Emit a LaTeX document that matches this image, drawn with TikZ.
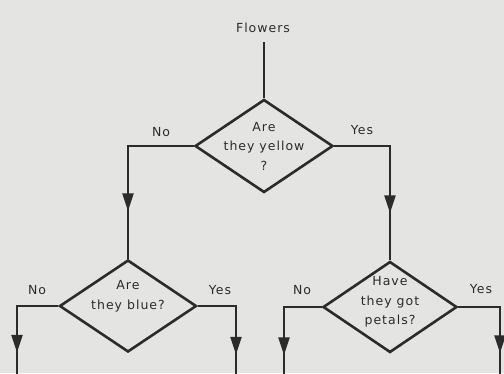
\documentclass[tikz,border=0pt]{standalone}
\usepackage{fontspec}
\setmainfont{DejaVu Sans}[LetterSpace=8]
\usetikzlibrary{shapes.geometric,arrows.meta,decorations.markings}
\definecolor{ink}{HTML}{2B2B2B}
\definecolor{bg}{HTML}{E4E5E2}
\begin{document}
\begin{tikzpicture}[x=1pt,y=-1pt,
  ln/.style={line width=2.6pt, draw=ink},
  dia/.style={diamond, ln, inner sep=0pt},
  dtext/.style={align=center, text=ink, inner sep=0pt,
    font=\fontsize{12.5}{19.5}\selectfont},
  lab/.style={text=ink, font=\fontsize{12.5}{14}\selectfont, inner sep=0pt},
  arrowat/.style={postaction={decorate}, decoration={markings,
    mark=at position #1 with {\arrow{Triangle[length=18pt,width=11pt]}}}}]
\fill[bg] (0,0) rectangle (504,373);
\useasboundingbox (0,0) rectangle (504,373);
\node[lab] (flowers) at (263,28) {Flowers};
\node[dia, minimum width=138pt, minimum height=93pt,
  label={[dtext]center:{Are\\they yellow\\?}}] (d1) at (264,146) {};
\node[dia, minimum width=137pt, minimum height=92pt,
  label={[dtext, yshift=10pt]center:{Are\\they blue?}}] (d2) at (128,306) {};
\node[dia, minimum width=134pt, minimum height=91pt,
  label={[dtext, yshift=5pt]center:{Have\\they got\\petals?}}] (d3) at (390,307) {};
\coordinate (e1) at (17,380);
\coordinate (e2) at (236,380);
\coordinate (e3) at (284,380);
\coordinate (e4) at (500,380);
\coordinate (f1) at (264,42);
\draw[ln] (f1) -- (d1.north);
\draw[ln, arrowat=131pt] (d1.west) -| (d2.north);
\draw[ln, arrowat=123pt] (d1.east) -| (d3.north);
\draw[ln, arrowat=88pt] (d2.west) -| (e1);
\draw[ln, arrowat=87pt] (d2.east) -| (e2);
\draw[ln, arrowat=86pt] (d3.west) -| (e3);
\draw[ln, arrowat=88pt] (d3.east) -| (e4);
\node[lab] (no1) at (161,132) {No};
\node[lab] (yes1) at (362,130) {Yes};
\node[lab] (no2) at (37,290) {No};
\node[lab] (yes2) at (220,290) {Yes};
\node[lab] (no3) at (302,290) {No};
\node[lab] (yes3) at (481,289) {Yes};
\end{tikzpicture}
\end{document}
